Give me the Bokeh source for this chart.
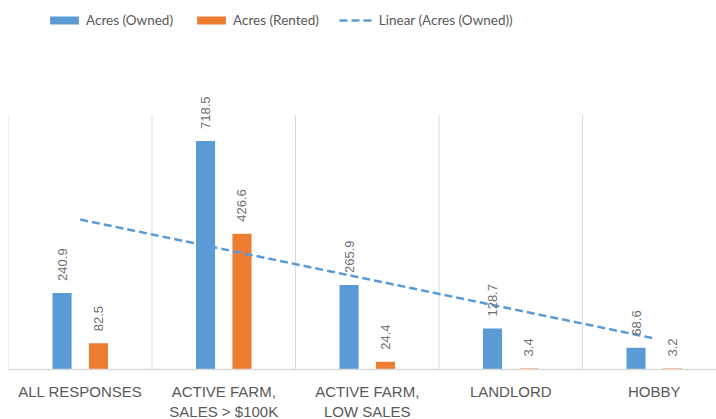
import numpy as np
from bokeh.plotting import figure
from bokeh.models import Range1d, FixedTicker, Legend, LegendItem, ColumnDataSource
from bokeh.core.properties import value
from bokeh.embed import file_html
from bokeh.resources import INLINE

categories = ["ALL RESPONSES", "ACTIVE FARM,\nSALES > $100K", "ACTIVE FARM,\nLOW SALES", "LANDLORD", "HOBBY"]
acres_owned = [240.9, 718.5, 265.9, 128.7, 68.6]
acres_rented = [82.5, 426.6, 24.4, 3.4, 3.2]
owned_labels = ["240.9", "718.5", "265.9", "128.7", "68.6"]
rented_labels = ["82.5", "426.6", "24.4", "3.4", "3.2"]

BLUE = "#5B9BD5"
ORANGE = "#ED7D31"
GRID = "#d9d9d9"
TEXT = "#595959"

n = len(categories)
centers = np.arange(n) + 0.5
off = 0.127
bw = 0.133

src_o = ColumnDataSource(dict(x=centers - off, top=acres_owned, lab=owned_labels))
src_r = ColumnDataSource(dict(x=centers + off, top=acres_rented, lab=rented_labels))

p = figure(frame_width=708, frame_height=361, output_backend="svg", toolbar_location=None,
           x_range=Range1d(0, 708 / 143.5), y_range=Range1d(0, 1135),
           min_border_left=8, min_border_right=0, min_border_top=8, min_border_bottom=50)
p.outline_line_color = None
p.xgrid.grid_line_color = None
p.ygrid.grid_line_color = None
p.yaxis.visible = False

# category separator lines
bounds = np.arange(n + 1)
p.segment(x0=bounds, y0=0, x1=bounds, y1=800, line_color=GRID, line_width=1)

r_o = p.vbar(x="x", top="top", width=bw, source=src_o, fill_color=BLUE, line_color=None)
r_r = p.vbar(x="x", top="top", width=bw, source=src_r, fill_color=ORANGE, line_color=None)

# linear trend of owned acres
coef = np.polyfit(centers, acres_owned, 1)
tx = centers[[0, -1]]
ty = np.polyval(coef, tx)
r_t = p.line(tx, ty, line_color=BLUE, line_width=2.5, line_dash="8 4")

for src in (src_o, src_r):
    p.text(x="x", y="top", text="lab", source=src, angle=np.pi / 2,
           text_align="left", text_baseline="middle", y_offset=-12,
           text_font=value("Liberation Sans"), text_font_size="13px", text_color="#6f6f6f")

ax = p.xaxis[0]
ax.ticker = FixedTicker(ticks=list(centers))
ax.major_label_overrides = {float(c): lab for c, lab in zip(centers, categories)}
ax.major_tick_line_color = None
ax.minor_tick_line_color = None
ax.axis_line_color = GRID
ax.axis_line_width = 1.5
ax.major_label_standoff = 7
ax.major_label_text_font = "Liberation Sans"
ax.major_label_text_font_size = "15px"
ax.major_label_text_color = TEXT

legend = Legend(items=[LegendItem(label="Acres (Owned)", renderers=[r_o]),
                       LegendItem(label="Acres (Rented)", renderers=[r_r]),
                       LegendItem(label="Linear (Acres (Owned))", renderers=[r_t])],
                orientation="horizontal", location=(38, 341),
                glyph_width=36, glyph_height=10, label_standoff=4, spacing=20,
                padding=0, margin=0, border_line_color=None, background_fill_alpha=0,
                label_text_font="Lato", label_text_font_size="13.5px",
                label_text_color=TEXT)
p.add_layout(legend)

open("out.html", "w").write(file_html(p, INLINE))
